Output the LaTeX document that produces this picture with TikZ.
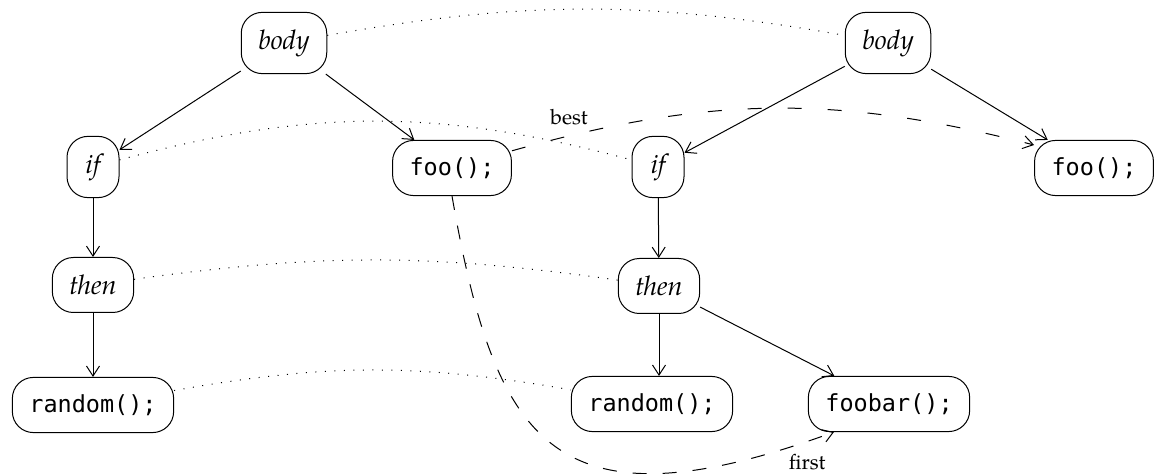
\documentclass[tikz,border=0pt]{standalone}
\usepackage{fontspec}
\setmainfont{TeX Gyre Pagella}
\setmonofont[Scale=0.87]{DejaVu Sans Mono}
\usetikzlibrary{arrows.meta}

\tikzset{
  box/.style={draw, line width=0.5pt, rounded corners=10.5pt, inner sep=8.5pt,
              minimum height=27.5pt, minimum width=26pt},
  kw/.style={box, font=\fontsize{13.5}{16}\selectfont\itshape},
  code/.style={box, font=\fontsize{13.5}{16}\selectfont\ttfamily},
  tip/.style={-{Straight Barb[length=5pt,width=6.5pt]}},
  tree/.style={line width=0.5pt, tip},
  match/.style={line width=0.5pt, dash pattern=on 0.5pt off 4.25pt},
  map/.style={line width=0.5pt, tip},
  lbl/.style={font=\fontsize{10.5}{12}\selectfont, inner sep=1pt}
}

\begin{document}
\begin{tikzpicture}[x=0.5pt, y=-0.5pt]
  \useasboundingbox (0,0) rectangle (1155,474);

  % left tree
  \node[kw]   (bodyL) at (284,43)  {body};
  \node[kw]   (ifL)   at (93,167)  {if};
  \node[code] (fooL)  at (452,168) {foo();};
  \node[kw]   (thenL) at (93,285)  {then};
  \node[code] (randL) at (93,405)  {random();};

  % right tree
  \node[kw]   (bodyR) at (888,43)  {body};
  \node[kw]   (ifR)   at (658,167) {if};
  \node[code] (fooR)  at (1094,168) {foo();};
  \node[kw]   (thenR) at (659,286) {then};
  \node[code] (randR) at (652,404) {random();};
  \node[code] (fbR)   at (889,404) {foobar();};

  % tree edges
  \draw[tree] (bodyL) -- (ifL);
  \draw[tree] (bodyL) -- (fooL);
  \draw[tree] (ifL) -- (thenL);
  \draw[tree] (thenL) -- (randL);
  \draw[tree] (bodyR) -- (ifR);
  \draw[tree] (bodyR) -- (fooR);
  \draw[tree] (ifR) -- (thenR);
  \draw[tree] (thenR) -- (thenR |- randR.north);
  \draw[tree] (thenR) -- (fbR);

  % matched pairs
  \draw[match] (bodyL) to[bend left=10] (bodyR);
  \draw[match] (ifL)   to[bend left=15] (ifR);
  \draw[match] (thenL) to[bend left=8]  (thenR);
  \draw[match] (randL) to[bend left=10] (randR);

  % candidate mappings
  \draw[map, dash pattern=on 7pt off 13pt] (fooL.16) to[bend left=15]
    node[lbl, pos=0.1, above=4pt] {best} (fooR.159);
  \draw[map, dash pattern=on 7pt off 8pt] (fooL.south)
    .. controls +(43,246) and +(-282,103) ..
    node[lbl, pos=1, anchor=north east, xshift=-3pt, yshift=-10pt] {first} (fbR.207);
\end{tikzpicture}
\end{document}
